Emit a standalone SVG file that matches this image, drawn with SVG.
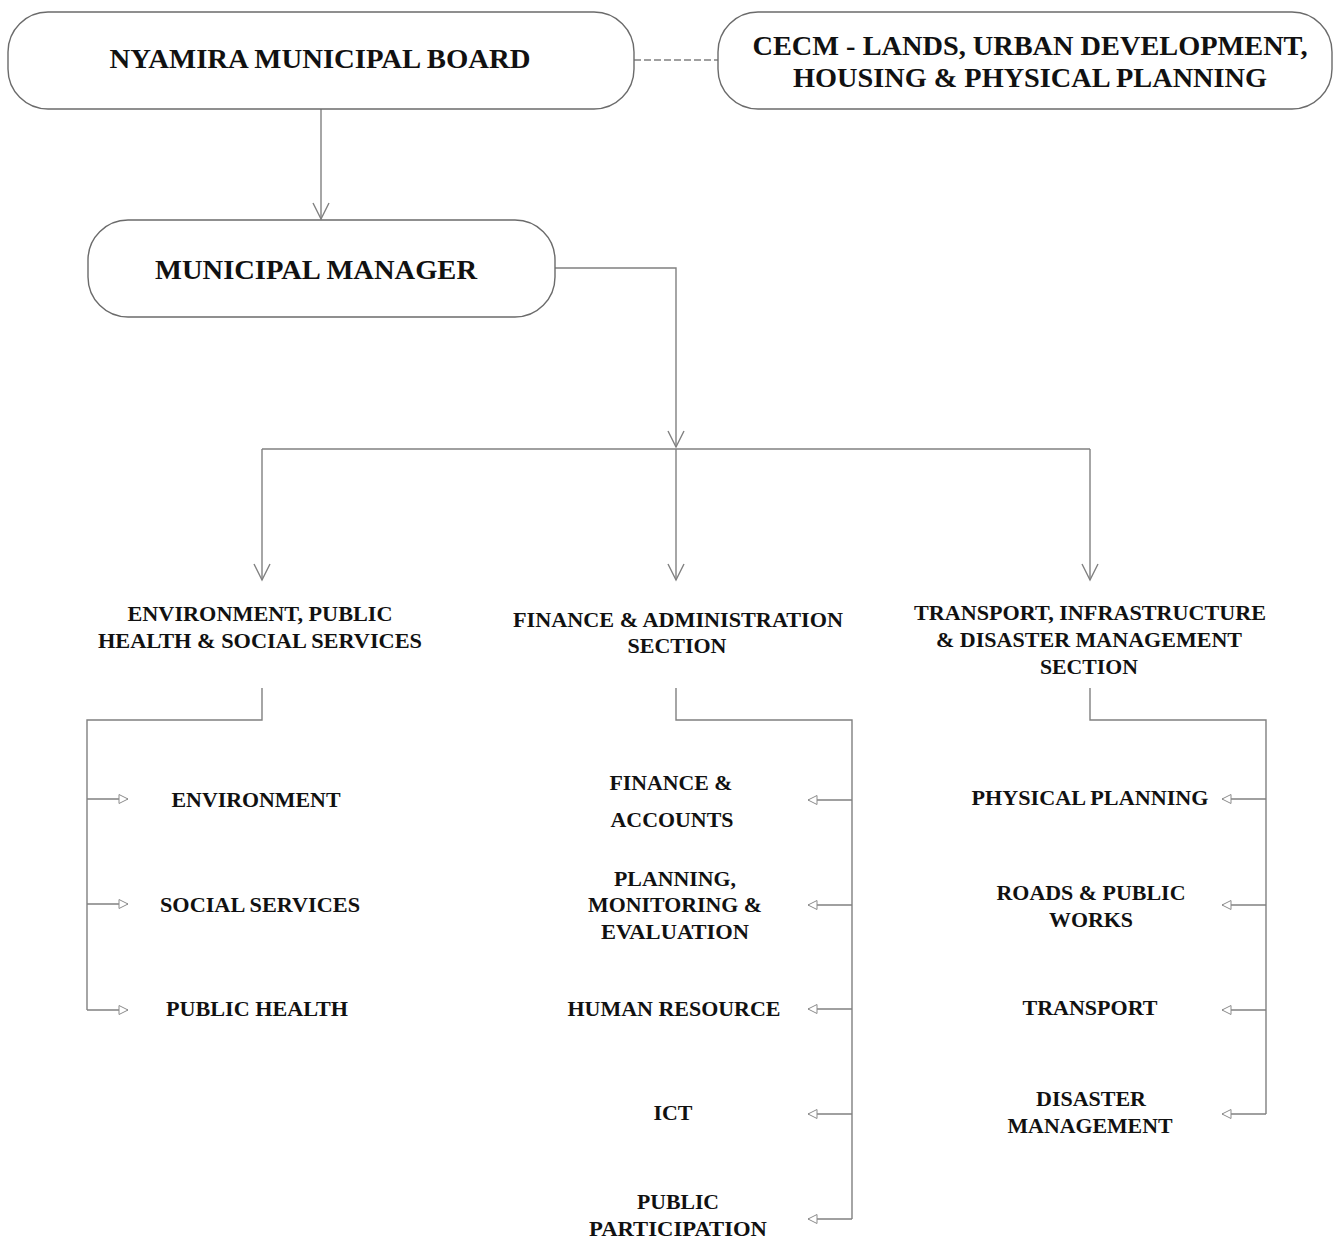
<svg xmlns="http://www.w3.org/2000/svg" width="1333" height="1239" viewBox="0 0 1333 1239">
<style>
.box{fill:#fff;stroke:#6b6b6b;stroke-width:1.4}
.ln{fill:none;stroke:#808080;stroke-width:1.4}
.t{font-family:"Liberation Serif","Times New Roman",serif;font-weight:bold;fill:#111;text-anchor:middle}
.big{font-size:28px}
.sm{font-size:22px}
</style>
<defs>
<marker id="v" viewBox="-18 -10 20 20" refX="0" refY="0" markerWidth="20" markerHeight="20" markerUnits="userSpaceOnUse" orient="auto">
<path d="M-16,-8 L0,0 L-16,8" fill="none" stroke="#808080" stroke-width="1.4"/>
</marker>
<marker id="tri" viewBox="-12 -7 14 14" refX="0" refY="0" markerWidth="14" markerHeight="14" markerUnits="userSpaceOnUse" orient="auto">
<path d="M-9,-4.5 L0,0 L-9,4.5 Z" fill="#fff" stroke="#8c8c8c" stroke-width="1"/>
</marker>
</defs>
<rect width="1333" height="1239" fill="#fff"/>
<g id="connectors">
<line class="ln" x1="634" y1="60" x2="718" y2="60" stroke="#b0b0b0" stroke-dasharray="7,3"/>
<path class="ln" d="M321,109 V219" marker-end="url(#v)"/>
<path class="ln" d="M555,268 H676 V447" marker-end="url(#v)"/>
<path class="ln" d="M262,449 H1090"/>
<path class="ln" d="M262,449 V580" marker-end="url(#v)"/>
<path class="ln" d="M676,449 V580" marker-end="url(#v)"/>
<path class="ln" d="M1090,449 V580" marker-end="url(#v)"/>
<path class="ln" d="M262,688 V720 H87 V1010"/>
<path class="ln" d="M87,799 H128" marker-end="url(#tri)"/>
<path class="ln" d="M87,904 H128" marker-end="url(#tri)"/>
<path class="ln" d="M87,1010 H128" marker-end="url(#tri)"/>
<path class="ln" d="M676,688 V720 H852 V1219"/>
<path class="ln" d="M852,800 H808" marker-end="url(#tri)"/>
<path class="ln" d="M852,905 H808" marker-end="url(#tri)"/>
<path class="ln" d="M852,1009 H808" marker-end="url(#tri)"/>
<path class="ln" d="M852,1114 H808" marker-end="url(#tri)"/>
<path class="ln" d="M852,1219 H808" marker-end="url(#tri)"/>
<path class="ln" d="M1090,688 V720 H1266 V1114"/>
<path class="ln" d="M1266,799 H1222" marker-end="url(#tri)"/>
<path class="ln" d="M1266,905 H1222" marker-end="url(#tri)"/>
<path class="ln" d="M1266,1010 H1222" marker-end="url(#tri)"/>
<path class="ln" d="M1266,1114 H1222" marker-end="url(#tri)"/>
</g>
<g id="board">
<rect class="box" x="8" y="12" width="626" height="97" rx="40" ry="40"/>
<text class="t big" x="320" y="68" textLength="421" lengthAdjust="spacingAndGlyphs">NYAMIRA MUNICIPAL BOARD</text>
</g>
<g id="cecm">
<rect class="box" x="718" y="12" width="614" height="97" rx="40" ry="40"/>
<text class="t big" x="1030" y="55" textLength="555" lengthAdjust="spacingAndGlyphs">CECM - LANDS, URBAN DEVELOPMENT,</text>
<text class="t big" x="1030" y="87" textLength="474" lengthAdjust="spacingAndGlyphs">HOUSING &amp; PHYSICAL PLANNING</text>
</g>
<g id="manager">
<rect class="box" x="88" y="220" width="467" height="97" rx="40" ry="40"/>
<text class="t big" x="316" y="279" textLength="322" lengthAdjust="spacingAndGlyphs">MUNICIPAL MANAGER</text>
</g>
<g id="env-section">
<text class="t sm" x="260" y="621" textLength="265" lengthAdjust="spacingAndGlyphs">ENVIRONMENT, PUBLIC</text>
<text class="t sm" x="260" y="648" textLength="324" lengthAdjust="spacingAndGlyphs">HEALTH &amp; SOCIAL SERVICES</text>
</g>
<g id="fin-section">
<text class="t sm" x="678" y="627" textLength="330" lengthAdjust="spacingAndGlyphs">FINANCE &amp; ADMINISTRATION</text>
<text class="t sm" x="677" y="653" textLength="99" lengthAdjust="spacingAndGlyphs">SECTION</text>
</g>
<g id="trans-section">
<text class="t sm" x="1090" y="620" textLength="352" lengthAdjust="spacingAndGlyphs">TRANSPORT, INFRASTRUCTURE</text>
<text class="t sm" x="1089" y="647" textLength="306" lengthAdjust="spacingAndGlyphs">&amp; DISASTER MANAGEMENT</text>
<text class="t sm" x="1089" y="674" textLength="98" lengthAdjust="spacingAndGlyphs">SECTION</text>
</g>
<g id="environment"><text class="t sm" x="256" y="807" textLength="169" lengthAdjust="spacingAndGlyphs">ENVIRONMENT</text></g>
<g id="social"><text class="t sm" x="260" y="912" textLength="200" lengthAdjust="spacingAndGlyphs">SOCIAL SERVICES</text></g>
<g id="health"><text class="t sm" x="257" y="1016" textLength="182" lengthAdjust="spacingAndGlyphs">PUBLIC HEALTH</text></g>
<g id="finance">
<text class="t sm" x="671" y="790" textLength="123" lengthAdjust="spacingAndGlyphs">FINANCE &amp;</text>
<text class="t sm" x="672" y="827" textLength="123" lengthAdjust="spacingAndGlyphs">ACCOUNTS</text>
</g>
<g id="planning">
<text class="t sm" x="675" y="886" textLength="122" lengthAdjust="spacingAndGlyphs">PLANNING,</text>
<text class="t sm" x="675" y="912" textLength="174" lengthAdjust="spacingAndGlyphs">MONITORING &amp;</text>
<text class="t sm" x="675" y="939" textLength="148" lengthAdjust="spacingAndGlyphs">EVALUATION</text>
</g>
<g id="hr"><text class="t sm" x="674" y="1016" textLength="213" lengthAdjust="spacingAndGlyphs">HUMAN RESOURCE</text></g>
<g id="ict"><text class="t sm" x="673" y="1120" textLength="39" lengthAdjust="spacingAndGlyphs">ICT</text></g>
<g id="participation">
<text class="t sm" x="678" y="1209" textLength="82" lengthAdjust="spacingAndGlyphs">PUBLIC</text>
<text class="t sm" x="678" y="1236" textLength="178" lengthAdjust="spacingAndGlyphs">PARTICIPATION</text>
</g>
<g id="physical"><text class="t sm" x="1090" y="805" textLength="237" lengthAdjust="spacingAndGlyphs">PHYSICAL PLANNING</text></g>
<g id="roads">
<text class="t sm" x="1091" y="900" textLength="189" lengthAdjust="spacingAndGlyphs">ROADS &amp; PUBLIC</text>
<text class="t sm" x="1091" y="927" textLength="84" lengthAdjust="spacingAndGlyphs">WORKS</text>
</g>
<g id="transport"><text class="t sm" x="1090" y="1015" textLength="135" lengthAdjust="spacingAndGlyphs">TRANSPORT</text></g>
<g id="disaster">
<text class="t sm" x="1091" y="1106" textLength="110" lengthAdjust="spacingAndGlyphs">DISASTER</text>
<text class="t sm" x="1090" y="1133" textLength="165" lengthAdjust="spacingAndGlyphs">MANAGEMENT</text>
</g>
</svg>
